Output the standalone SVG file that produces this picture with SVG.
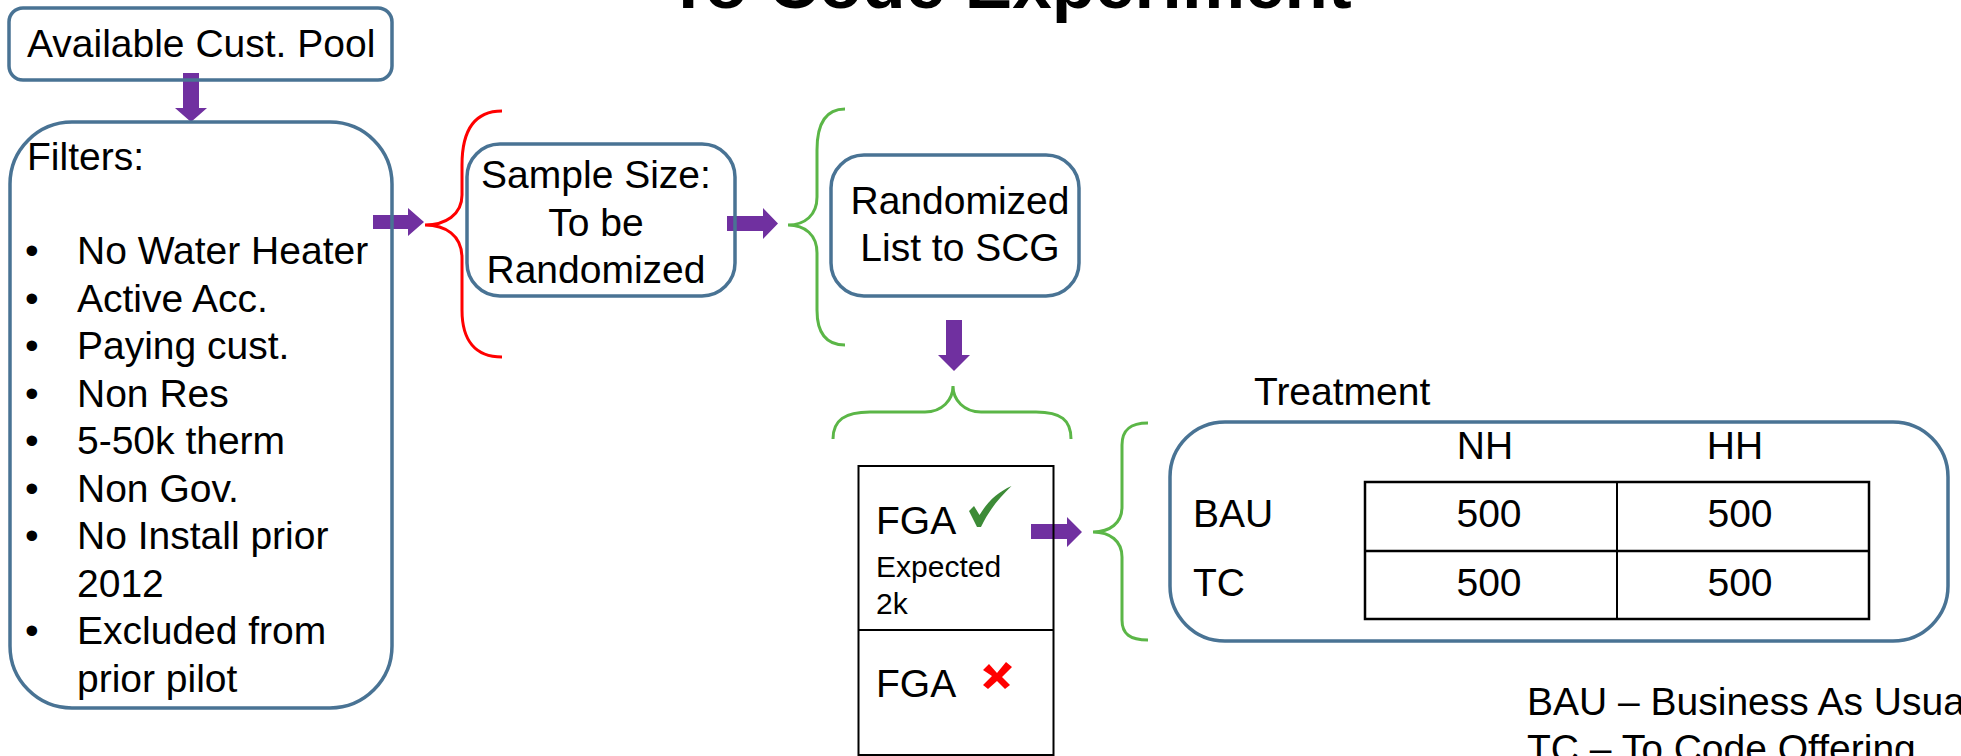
<svg xmlns="http://www.w3.org/2000/svg" width="1961" height="756" viewBox="0 0 1961 756">
<style>
text{font-family:"Liberation Sans",Arial,sans-serif;fill:#000}
.t39{font-size:39px}
.box{fill:none;stroke:#497394;stroke-width:3.5}
.arrow{fill:#7030A0}
.gb{fill:none;stroke:#5BB647;stroke-width:3}
.rb{fill:none;stroke:#FF0000;stroke-width:3}
.tbl{fill:none;stroke:#000;stroke-width:2.5}
.ln{stroke:#000;stroke-width:2;fill:none}
</style>
<rect width="1961" height="756" fill="#fff"/>
<text id="title" x="1009" y="8" text-anchor="middle" style="font-size:71px;font-weight:bold">To Code Experiment</text>
<g id="connectors">
<polygon class="arrow" points="183,73 199,73 199,108 207,108 191,122 175,108 183,108"/>
<polygon class="arrow" points="373,215 408,215 408,208 424,222 408,236 408,229 373,229"/>
<polygon class="arrow" points="727,216 763,216 763,208 778,223.5 763,239 763,231 727,231"/>
<polygon class="arrow" points="946,320 962,320 962,355 970,355 954,371 938,355 946,355"/>
<polygon class="arrow" points="1031,524 1067,524 1067,517 1082,532 1067,547 1067,539 1031,539"/>
<path class="rb" d="M502 111 C475 111 462 130 462 165 L462 195 C462 215 445 225 425 225 C445 225 462 235 462 258 L462 310 C462 340 475 357 502 357"/>
<path class="gb" d="M845 109 C825 109 817 125 817 150 L817 197 C817 215 805 225 788 225 C805 225 817 235 817 253 L817 310 C817 332 825 345 845 345"/>
<path class="gb" d="M833 439 C833 420 845 412 870 412 L925 412 C942 412 953 400 953 386 C953 400 964 412 981 412 L1036 412 C1061 412 1071 420 1071 439"/>
<path class="gb" d="M1148 423 C1130 423 1122 430 1122 445 L1122 507 C1122 523 1110 532 1093 532 C1110 532 1122 541 1122 557 L1122 620 C1122 634 1130 640 1148 640"/>
</g>
<g id="pool">
<rect class="box" x="9" y="8" width="383" height="72" rx="14"/>
<text class="t39" x="27" y="57">Available Cust. Pool</text>
</g>
<g id="filters">
<rect class="box" x="10" y="122" width="382" height="586" rx="62"/>
<text class="t39" x="27" y="170">Filters:</text>
<g class="t39">
<text x="25" y="264">•</text><text x="77" y="264">No Water Heater</text>
<text x="25" y="311.5">•</text><text x="77" y="311.5">Active Acc.</text>
<text x="25" y="359">•</text><text x="77" y="359">Paying cust.</text>
<text x="25" y="406.5">•</text><text x="77" y="406.5">Non Res</text>
<text x="25" y="454">•</text><text x="77" y="454">5-50k therm</text>
<text x="25" y="501.5">•</text><text x="77" y="501.5">Non Gov.</text>
<text x="25" y="549">•</text><text x="77" y="549">No Install prior</text>
<text x="77" y="596.5">2012</text>
<text x="25" y="644">•</text><text x="77" y="644">Excluded from</text>
<text x="77" y="691.5">prior pilot</text>
</g>
</g>
<g id="sample">
<rect class="box" x="467" y="144" width="268" height="152" rx="33"/>
<text class="t39" x="596" y="188" text-anchor="middle">Sample Size:</text>
<text class="t39" x="596" y="236" text-anchor="middle">To be</text>
<text class="t39" x="596" y="283" text-anchor="middle">Randomized</text>
</g>
<g id="randomized">
<rect class="box" x="831" y="155" width="248" height="141" rx="33"/>
<text class="t39" x="960" y="214" text-anchor="middle">Randomized</text>
<text class="t39" x="960" y="261" text-anchor="middle">List to SCG</text>
</g>
<g id="fga">
<rect class="ln" x="858.5" y="466" width="195" height="289"/>
<line class="ln" x1="858.5" y1="630" x2="1053.5" y2="630"/>
<text class="t39" x="876" y="534">FGA</text>
<path fill="#3D8B37" d="M969 511 L974 506 L979.5 515 C988 501 998 492 1011.5 486 C1000 497 989 510 981 527 L977 527 Z"/>
<text x="876" y="577" style="font-size:30px">Expected</text>
<text x="876" y="614" style="font-size:30px">2k</text>
<text class="t39" x="876" y="697">FGA</text>
<path fill="#FF0000" d="M983 670 L989 664 L997 673 L1006 662 L1012 667 L1002 677 L1010 685 L1005 689 L997 681 L988 689 L983 685 L992 676 Z"/>
</g>
<g id="treatment">
<text class="t39" x="1254" y="405">Treatment</text>
<rect class="box" x="1170" y="422" width="778" height="219" rx="55"/>
<text class="t39" x="1485" y="459" text-anchor="middle">NH</text>
<text class="t39" x="1735" y="459" text-anchor="middle">HH</text>
<rect class="tbl" x="1365" y="482" width="504" height="137"/>
<line class="tbl" x1="1365" y1="551" x2="1869" y2="551"/>
<line class="ln" x1="1617" y1="482" x2="1617" y2="619"/>
<text class="t39" x="1193" y="527">BAU</text>
<text class="t39" x="1193" y="596">TC</text>
<text class="t39" x="1489" y="527" text-anchor="middle">500</text>
<text class="t39" x="1740" y="527" text-anchor="middle">500</text>
<text class="t39" x="1489" y="596" text-anchor="middle">500</text>
<text class="t39" x="1740" y="596" text-anchor="middle">500</text>
</g>
<g id="legend">
<text class="t39" x="1527" y="715">BAU – Business As Usual</text>
<text class="t39" x="1527" y="762">TC – To Code Offering</text>
</g>
</svg>
